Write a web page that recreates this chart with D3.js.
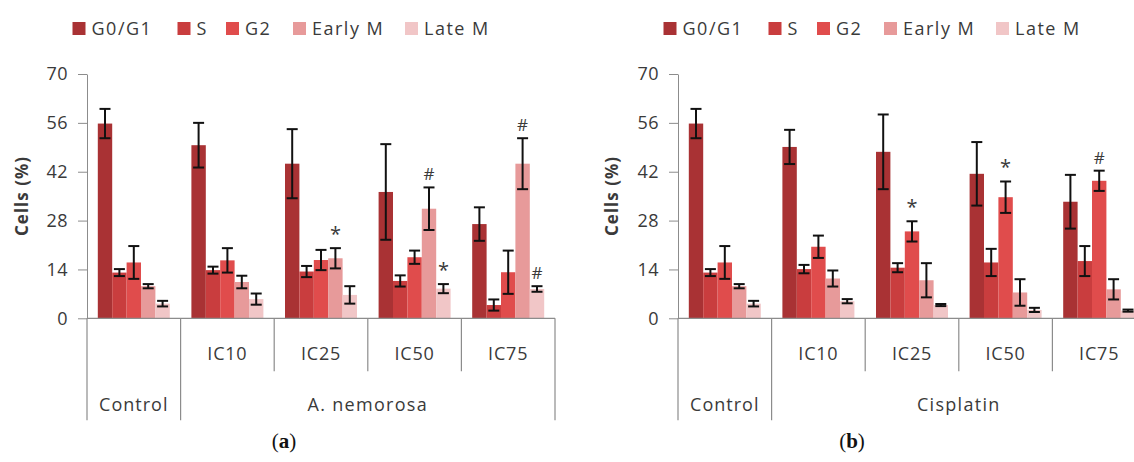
<!DOCTYPE html>
<html>
<head>
<meta charset="utf-8">
<script src="https://cdn.jsdelivr.net/npm/d3@7/dist/d3.min.js"></script>
<style>
  html, body { margin: 0; padding: 0; background: #fff; }
  svg { display: block; }
  .tick text, .lbl { font-family: "Open Sans", "DejaVu Sans", sans-serif; fill: #3a3a3a; }
</style>
</head>
<body>
<svg id="chart" width="1134" height="462"></svg>
<script>
// Cell-cycle distribution (% of cells) per treatment dose
const categories = ["Control", "IC10", "IC25", "IC50", "IC75"];
const phases = ["G0/G1", "S", "G2", "Early M", "Late M"];
const phaseColors = ["#a93234", "#c93d3e", "#e04c4c", "#e79a9a", "#f1c6c7"];
const yTicks = [0, 14, 28, 42, 56, 70];

// A. nemorosa: means and error (SD) per category, in phase order
const nemorosaMeans = [
  [55.8, 13.1, 16.0, 9.2, 4.2],
  [49.6, 13.8, 16.6, 10.4, 5.5],
  [44.3, 13.4, 16.7, 17.2, 6.7],
  [36.2, 10.7, 17.5, 31.4, 8.5],
  [27.0, 3.8, 13.2, 44.3, 8.4]
];
const nemorosaErrors = [
  [4.2, 1.0, 4.7, 0.6, 0.8],
  [6.4, 1.0, 3.5, 1.8, 1.6],
  [9.9, 1.6, 2.9, 2.9, 2.5],
  [13.7, 1.6, 1.9, 6.1, 1.3],
  [4.8, 1.6, 6.2, 7.3, 0.8]
];
const nemorosaMarks = [
  ["IC25", "Early M", "*"],
  ["IC50", "Early M", "#"],
  ["IC50", "Late M", "*"],
  ["IC75", "Early M", "#"],
  ["IC75", "Late M", "#"]
];

// Cisplatin: means and error (SD) per category, in phase order
const cisplatinMeans = [
  [55.8, 13.1, 16.0, 9.2, 4.2],
  [49.1, 14.1, 20.5, 11.4, 4.9],
  [47.7, 14.5, 24.9, 10.9, 3.8],
  [41.4, 16.0, 34.7, 7.4, 2.4],
  [33.4, 16.4, 39.4, 8.3, 2.2]
];
const cisplatinErrors = [
  [4.2, 1.0, 4.7, 0.6, 0.8],
  [4.9, 1.2, 3.2, 2.3, 0.6],
  [10.7, 1.3, 2.9, 4.9, 0.3],
  [9.1, 3.9, 4.5, 3.8, 0.6],
  [7.7, 4.3, 2.9, 2.9, 0.3]
];
const cisplatinMarks = [
  ["IC25", "G2", "*"],
  ["IC50", "G2", "*"],
  ["IC75", "G2", "#"]
];

const svg = d3.select("#chart");
const plotW = 468, plotTop = 74, plotBottom = 318.3;

const y = d3.scaleLinear().domain([0, 70]).range([plotBottom, plotTop]);
const x0 = d3.scaleBand().domain(categories).range([0, plotW]).padding(0);
const x1 = d3.scaleBand().domain(phases).range([0, x0.bandwidth()]).paddingInner(0).paddingOuter(0.75);
const color = d3.scaleOrdinal().domain(phases).range(phaseColors);

function drawPanel(opt) {
  const g = svg.append("g").attr("transform", `translate(${opt.left},0)`);

  // y axis
  const ya = g.append("g")
    .call(d3.axisLeft(y).tickValues(yTicks).tickSize(9).tickSizeOuter(0).tickPadding(10));
  ya.select(".domain").attr("stroke", "#8c8c8c");
  ya.selectAll(".tick line").attr("stroke", "#8c8c8c");
  ya.selectAll(".tick text").attr("font-size", 18).attr("letter-spacing", 0.5);

  // y axis title
  svg.append("text").attr("class", "lbl")
    .attr("transform", `translate(${opt.titleX},196) rotate(-90)`)
    .attr("text-anchor", "middle").attr("dominant-baseline", "middle")
    .attr("font-size", 17).attr("font-weight", "bold").attr("letter-spacing", 1).attr("fill", "#222")
    .text("Cells (%)");

  // bars
  const rows = categories.map((c, i) => ({ cat: c, means: opt.means[i], errs: opt.errors[i] }));
  const grp = g.selectAll(".grp").data(rows).join("g")
    .attr("transform", d => `translate(${x0(d.cat)},0)`);
  const cells = d => phases.map((p, j) => ({ phase: p, v: d.means[j], e: d.errs[j] }));

  grp.selectAll("rect").data(cells).join("rect")
    .attr("x", d => x1(d.phase))
    .attr("width", x1.bandwidth())
    .attr("y", d => y(d.v))
    .attr("height", d => y(0) - y(d.v))
    .attr("fill", d => color(d.phase));

  // error bars
  const eb = grp.selectAll(".eb").data(cells).join("g").attr("class", "eb")
    .attr("stroke", "#111").attr("stroke-width", 2);
  const cx = d => x1(d.phase) + x1.bandwidth() / 2;
  const capW = 5.5;
  eb.append("line").attr("x1", cx).attr("x2", cx)
    .attr("y1", d => y(d.v + d.e)).attr("y2", d => y(d.v - d.e));
  eb.append("line").attr("x1", d => cx(d) - capW).attr("x2", d => cx(d) + capW)
    .attr("y1", d => y(d.v + d.e)).attr("y2", d => y(d.v + d.e));
  eb.append("line").attr("x1", d => cx(d) - capW).attr("x2", d => cx(d) + capW)
    .attr("y1", d => y(d.v - d.e)).attr("y2", d => y(d.v - d.e));

  // significance marks
  g.selectAll(".mark").data(opt.marks).join("text").attr("class", "lbl")
    .attr("x", d => x0(d[0]) + x1(d[1]) + x1.bandwidth() / 2)
    .attr("y", d => {
      const ci = categories.indexOf(d[0]), pj = phases.indexOf(d[1]);
      return y(opt.means[ci][pj] + opt.errors[ci][pj]) - 7;
    })
    .attr("text-anchor", "middle")
    .attr("font-size", d => d[2] === "*" ? 20 : 17)
    .attr("fill", "#333")
    .text(d => d[2]);

  // category axis with two label levels
  const axisColor = "#8c8c8c";
  g.append("line").attr("x1", 0).attr("x2", plotW)
    .attr("y1", plotBottom).attr("y2", plotBottom)
    .attr("stroke", axisColor).attr("stroke-width", 1.2);
  const bounds = d3.range(categories.length + 1);
  g.selectAll(".sep").data(bounds).join("line")
    .attr("x1", i => i * x0.step()).attr("x2", i => i * x0.step())
    .attr("y1", plotBottom)
    .attr("y2", i => (i === 0 || i === 1 || i === categories.length) ? plotBottom + 102 : plotBottom + 53)
    .attr("stroke", axisColor).attr("stroke-width", 1.2);
  g.selectAll(".dose").data(categories.slice(1)).join("text").attr("class", "lbl")
    .attr("x", c => x0(c) + x0.bandwidth() / 2)
    .attr("y", plotBottom + 42)
    .attr("text-anchor", "middle").attr("font-size", 18).attr("letter-spacing", 0.8)
    .text(c => c);
  g.append("text").attr("class", "lbl")
    .attr("x", x0(categories[0]) + x0.bandwidth() / 2).attr("y", plotBottom + 93)
    .attr("text-anchor", "middle").attr("font-size", 18).attr("letter-spacing", 1)
    .text(categories[0]);
  g.append("text").attr("class", "lbl")
    .attr("x", (x0(categories[1]) + plotW) / 2).attr("y", plotBottom + 93)
    .attr("text-anchor", "middle").attr("font-size", 18).attr("letter-spacing", 1.3)
    .text(opt.group);

  // legend
  const lg = svg.append("g").attr("transform", `translate(${opt.left},0)`);
  const legendX = [-14.5, 90.5, 139, 206, 318];
  phases.forEach((p, j) => {
    lg.append("rect").attr("x", legendX[j]).attr("y", 22).attr("width", 13).attr("height", 13)
      .attr("fill", color(p));
    lg.append("text").attr("class", "lbl")
      .attr("x", legendX[j] + 19).attr("y", 35)
      .attr("font-size", 18).attr("letter-spacing", 1.5).attr("fill", "#222")
      .text(p);
  });

  // panel caption
  const cap = svg.append("text").attr("x", opt.captionX).attr("y", 448)
    .attr("text-anchor", "middle").attr("font-family", "'Liberation Serif', serif")
    .attr("font-size", 21).attr("fill", "#111");
  cap.append("tspan").text("(");
  cap.append("tspan").attr("font-weight", "bold").text(opt.caption);
  cap.append("tspan").text(")");
}

drawPanel({ left: 87, titleX: 23, group: "A. nemorosa", means: nemorosaMeans, errors: nemorosaErrors,
            marks: nemorosaMarks, caption: "a", captionX: 284 });
drawPanel({ left: 678, titleX: 613, group: "Cisplatin", means: cisplatinMeans, errors: cisplatinErrors,
            marks: cisplatinMarks, caption: "b", captionX: 852 });
</script>
</body>
</html>
